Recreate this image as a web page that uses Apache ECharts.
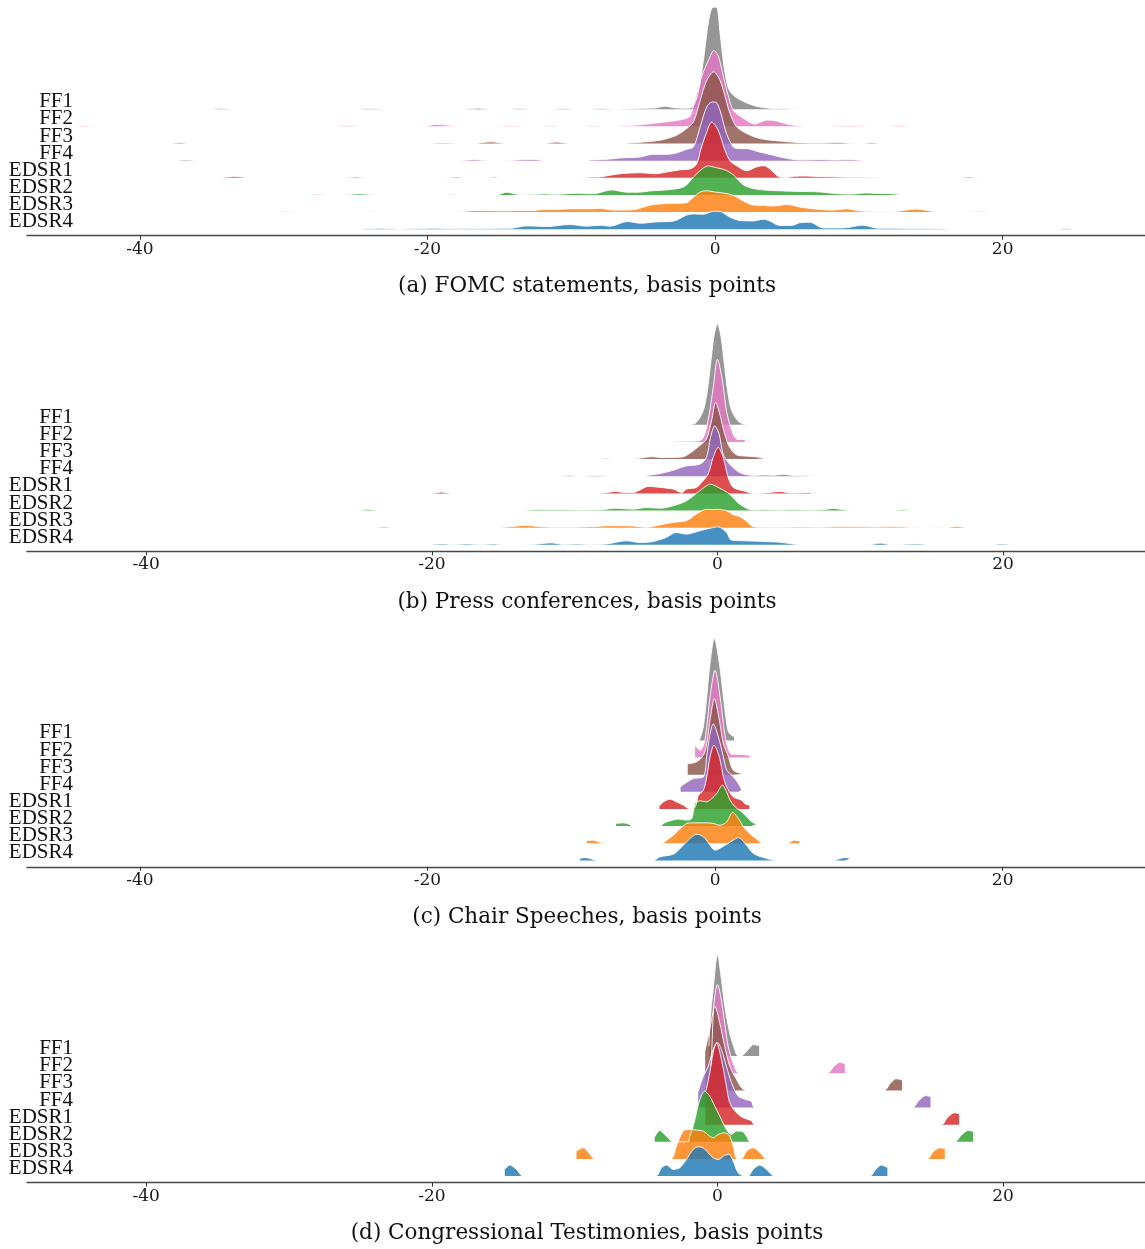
<!DOCTYPE html>
<html>
<head>
<meta charset="utf-8">
<script src="https://cdn.jsdelivr.net/npm/echarts@6/dist/echarts.min.js"></script>
<style>
  html, body { margin: 0; padding: 0; background: #ffffff; }
  #chart { width: 1145px; height: 1249px; }
</style>
</head>
<body>
<div id="chart"></div>
<script>
// Ridge order, top to bottom, and their fill colours
const ridgeNames = ['FF1', 'FF2', 'FF3', 'FF4', 'EDSR1', 'EDSR2', 'EDSR3', 'EDSR4'];
const ridgeColors = ['#7f7f7f', '#e377c2', '#8c564b', '#9467bd', '#d62728', '#2ca02c', '#ff7f0e', '#1f77b4'];
const panelTitles = [
  '(a) FOMC statements, basis points',
  '(b) Press conferences, basis points',
  '(c) Chair Speeches, basis points',
  '(d) Congressional Testimonies, basis points'
];
const tickValues = [-40, -20, 0, 20];

// Kernel density curves: [change in basis points, scaled density]
// (a) FOMC statements
const fomcFF1 = [[-34.9,0],[-34.3,0.9],[-33.7,0],[-24.8,0],[-24,0.9],[-23.1,0],[-17.5,0],[-16.5,1.2],[-15.6,0],[-14.3,0],[-13.6,0.9],[-12.9,0],[-11.2,0],[-10.5,0.9],[-9.9,0],[-8.7,0],[-7.9,0.9],[-7.1,0],[-6.0,0.5],[-5,1],[-4.2,1.2],[-3.5,3],[-2.8,1.5],[-2.1,1],[-1.6,2],[-1.2,15],[-0.8,50],[-0.45,88],[-0.15,102],[0.1,102],[0.35,76],[0.63,42],[0.93,21],[1.27,14],[1.8,9],[2.43,5],[3.0,2.5],[3.8,0.9],[4.8,0.6],[5.9,0.6]];
const fomcFF2 = [[-44.4,0],[-43.8,0.9],[-43.3,0],[-26.3,0],[-25.5,1],[-24.8,0],[-20.3,0],[-19.4,2],[-18.5,1],[-17.9,0],[-15.2,0],[-14.2,0.9],[-13.1,0],[-12.2,0],[-11.5,0.9],[-10.8,0],[-9.2,0],[-8.5,0.8],[-7.8,0],[-6.6,0.4],[-5.2,1.5],[-4.3,3],[-3.4,4.5],[-2.6,6],[-2.0,8],[-1.74,10],[-1.4,26],[-0.93,50],[-0.46,66],[-0.07,76],[0.23,70],[0.58,50],[0.93,30],[1.27,16],[1.97,8],[2.78,2.3],[3.2,4.5],[3.6,6.3],[4.2,5.7],[5.0,2.3],[5.9,0.6],[6.5,0],[7.8,0],[9.3,1],[10.8,0],[12.2,0],[12.8,1],[13.4,0]];
const fomcFF3 = [[-37.9,0],[-37.2,0.8],[-36.5,0],[-20.2,0],[-19,0.6],[-17.5,0],[-16.8,0],[-15.6,1.7],[-14.5,0],[-11.9,0],[-11,1.5],[-10.1,0],[-6.6,0],[-5.7,0.8],[-4.6,2],[-3.8,3.3],[-2.67,8.3],[-1.97,15],[-1.5,21.7],[-1.04,43],[-0.58,63],[-0.1,71.7],[0.35,63],[0.7,47],[1.04,30],[1.5,16.7],[2.2,10],[3.1,5],[4.3,2.7],[5.9,0.8],[6.5,0.6],[7.4,0.4],[8.0,0.7],[8.5,1.2],[9.1,0.6],[9.8,0],[10.2,0],[10.8,0.8],[11.5,0]];
const fomcFF4 = [[-37.5,0],[-36.8,0.7],[-36,0],[-18,0],[-16.8,0.9],[-15.6,0],[-14.7,0],[-13.5,0.8],[-12.5,1.1],[-11.9,0],[-9.2,0],[-8.6,0.7],[-8.0,1],[-7.5,1.3],[-6.6,2.7],[-5.7,3.2],[-5.2,3.7],[-4.3,6.3],[-3.4,6.3],[-2.67,7.7],[-2,11.3],[-1.5,13.7],[-1.04,33.7],[-0.58,53.7],[-0.2,58.7],[0.1,58],[0.35,50],[0.8,27],[1.27,13.7],[1.7,12],[2.2,12],[3.0,9],[3.6,7],[4.75,3],[5.9,0.7],[6.6,0.8],[7.3,1.2],[8.2,0.7],[9.4,0.9],[10.4,0]];
const fomcEDSR1 = [[-34.4,0],[-33.4,1.2],[-32.3,0],[-26,0],[-25,0.8],[-23.9,0],[-18.9,0],[-18,0.7],[-17.3,0],[-15.9,0],[-15.4,0.7],[-15,0],[-9.4,0],[-8.6,0.7],[-8.0,0.9],[-7.5,2],[-7.1,3],[-6.4,4.3],[-5.2,5],[-4.1,4],[-3.4,5.7],[-2.4,8],[-1.7,9],[-1.27,14],[-1.0,28],[-0.6,45],[-0.23,55.7],[0.23,47],[0.7,27],[1.04,17],[1.5,12],[2.2,7],[2.9,11],[3.4,12],[3.8,9],[4.5,0.8],[5.0,0.4],[5.5,1.5],[6.3,1.8],[7.0,1.4],[8.0,1],[9.0,0.6],[10.5,0.5],[12.4,0],[16.9,0],[17.6,0.7],[18.4,0]];
const fomcEDSR2 = [[-28.4,0],[-27.7,0.7],[-27,0],[-25.9,0],[-24.7,1.1],[-23.5,0],[-18.7,0],[-18.3,0.6],[-18,0],[-15.2,0],[-14.5,2.7],[-13.6,0.4],[-12.6,0.6],[-11.8,1],[-11,0.6],[-10.3,1.2],[-9.5,1.7],[-8.7,1.2],[-8.2,1.7],[-7.2,5],[-6.1,2.7],[-5.4,2.7],[-4.5,4],[-3.4,5],[-2.4,7],[-2.0,9.7],[-1.5,18],[-0.81,27],[-0.46,29],[0,27.5],[0.7,25],[1.27,20],[1.97,10],[2.67,6.3],[3.6,4.7],[4.75,4],[5.9,3.5],[6.6,3.3],[7.3,3],[8.3,1.5],[9.4,0.8],[10.5,2],[11.3,1.5],[12.2,1.3],[12.9,1]];
const fomcEDSR3 = [[-30.5,0],[-29.7,0.8],[-29,0],[-24.7,0],[-23.9,0.8],[-23.1,0],[-17.7,0.4],[-16.8,1.5],[-15.9,1.5],[-15,1.2],[-13.8,1.5],[-12.6,1.5],[-12.2,2.3],[-11,2.5],[-9.9,3.3],[-8.7,3.3],[-8.0,3.7],[-7.1,2],[-5.7,2.3],[-4.5,7],[-3.4,8.5],[-2,9.3],[-1.5,15],[-1.04,20],[-0.58,21.3],[0,20],[0.58,19],[1.27,16.7],[1.97,11],[2.67,7],[3.36,6.7],[4.06,6],[5.0,7.5],[5.9,5],[7.0,3],[8.2,2],[9.1,3.3],[10.0,1.2],[10.9,0.6],[11.9,0.4],[12.7,0.9],[14.0,3],[15.2,0.6],[15.8,0],[17.5,0],[18.2,0.7],[18.9,0]];
const fomcEDSR4 = [[-24.5,0],[-23.2,0.9],[-21.9,0],[-20.7,0.6],[-19.5,1],[-18.2,0.4],[-16.6,0.6],[-15.4,0.6],[-15,0.9],[-14.2,1],[-13.1,3.3],[-11.7,2.7],[-10.1,4.7],[-8.9,3],[-8,4],[-7.3,3],[-6.1,7.7],[-5.2,6],[-4.1,7.3],[-2.9,8],[-2,14],[-1.5,15.3],[-0.8,15],[-0.1,18],[0.35,17.7],[1.04,12],[1.74,8.7],[2.67,8.3],[3.36,10],[3.8,8.3],[4.5,3.7],[5.4,4],[5.9,6.5],[6.6,7],[7.5,1.3],[8.9,1.3],[10.3,4],[11.3,1],[12.2,1],[13.5,0.8],[15,0.8],[16.8,0],[23.8,0],[24.4,0.8],[24.9,0]];

// (b) Press conferences
const pressFF1 = [[-2.0,0],[-1.5,2],[-1.0,14],[-0.75,30],[-0.5,58],[-0.25,88],[0,101],[0.25,88],[0.5,58],[0.75,30],[1.0,14],[1.5,3],[2.0,0.5]];
const pressFF2 = [[-2.9,0.6],[-2.3,0.7],[-1.7,0.9],[-1.24,1.5],[-1.0,4.3],[-0.77,14],[-0.54,31],[-0.3,54],[0,82.7],[0.35,61],[0.63,31],[0.86,17.7],[1.1,7.7],[1.33,3],[1.6,2.5],[1.91,2.5]];
const pressFF3 = [[-8.4,0],[-7.8,0.9],[-7.3,0],[-6,0],[-5.4,1],[-4.9,2],[-4.5,2.3],[-4,1.6],[-3.1,1.7],[-2.4,2.3],[-1.7,8.3],[-1.2,14],[-0.77,20],[-0.42,38],[-0.12,56.7],[0.16,45],[0.51,25],[0.86,11.7],[1.33,4.3],[2.0,3],[2.7,2.3],[3.3,0.6]];
const pressFF4 = [[-10.8,0],[-10.3,0.9],[-9.9,0],[-9.3,0],[-8.5,1],[-7.8,0],[-5.2,0],[-4.7,1.3],[-4.0,2.7],[-3.1,6],[-2.2,10.3],[-1.24,12],[-0.77,18.7],[-0.49,38.7],[-0.19,50.3],[0.12,42],[0.4,22],[0.86,12],[1.56,3.7],[2.5,0.8],[3.3,1.3],[4.0,1],[4.6,2],[5.3,0.8],[6.1,0.8],[6.9,0.9]];
const pressEDSR1 = [[-19.9,0],[-19.3,1.3],[-18.7,0],[-8.24,0],[-7.8,0.8],[-7.1,2],[-6.5,0.8],[-5.9,0.8],[-5.44,3.3],[-4.86,7],[-4.0,6],[-3.1,4.3],[-2.5,0.8],[-2.17,4.3],[-1.47,6],[-1.0,12.7],[-0.65,19.3],[-0.3,36],[0.05,46],[0.4,36],[0.75,16],[1.1,6],[1.8,2.7],[2.6,0],[3.4,0.6],[4.4,2],[5.1,0.4],[5.9,0.6],[6.4,0.9],[6.9,0.8]];
const pressEDSR2 = [[-25,0],[-24.4,0.9],[-23.8,0],[-13.7,0],[-12.7,0.9],[-11.7,0.6],[-11,0.8],[-10,0.4],[-9.2,0.4],[-8.2,0.8],[-7.1,2.3],[-5.9,1.3],[-5,3],[-4,2.3],[-3.1,4.7],[-2.17,9.7],[-1.24,19.7],[-0.49,26.3],[0.16,22.3],[0.86,16.3],[1.56,6.3],[2.5,0.4],[3.2,0.8],[4.2,0.4],[5.3,0.8],[6.5,0.4],[7.5,1],[8.1,2.3],[8.7,0.9],[9.5,0],[12.3,0],[12.9,0.8],[13.5,0.6]];
const pressEDSR3 = [[-23.9,0],[-23.3,0.8],[-22.7,0],[-15.5,0],[-14.5,1],[-13.4,2.3],[-12.4,1],[-11,0.4],[-8.9,1],[-7.5,2],[-5.9,1.7],[-5,0.4],[-4.3,2],[-3.1,5.3],[-2.17,7],[-1.47,13.7],[-0.77,18.3],[-0.3,18],[-0.07,18.3],[0.63,17],[1.1,13],[1.56,11],[2,7],[2.5,1],[3.2,0.4],[4.5,0.4],[6,0.6],[7.2,0.4],[8.3,0.8],[9.7,0.8],[11.1,0.6],[11.8,0.8],[12.8,0.8],[13.5,0.3],[16,0],[16.7,1.3],[17.4,0]];
const pressEDSR4 = [[-19.9,0.6],[-19.2,0.9],[-18.6,0.4],[-17.5,0.9],[-16.6,0.4],[-15.6,0.9],[-14.8,0],[-12.7,0.6],[-11.7,2],[-10.8,0.4],[-9.8,0.8],[-9,0.4],[-7.8,0.8],[-6.4,4],[-5.4,2.3],[-4.5,3.3],[-3.6,7.3],[-2.9,12.3],[-2.2,10.7],[-1.24,14],[-0.3,17.3],[0.05,18],[0.63,12.3],[0.98,4.7],[2.0,4],[3.2,3.3],[4.4,2.5],[5.3,0.8],[6,0],[10.6,0],[11.4,1.7],[12.2,0],[13.2,0.6],[14.2,0.8],[14.9,0],[19.1,0],[19.8,0.8],[20.5,0.6]];

// (c) Chair speeches
const speechFF1 = [[-1.1,0],[-0.95,6],[-0.8,15],[-0.6,40],[-0.35,77],[-0.05,102],[0.3,77],[0.58,43.5],[0.81,17],[0.93,8.5],[1.16,5],[1.32,4]];
const speechFF2 = [[-1.39,12],[-1.04,7.3],[-0.76,14],[-0.58,30.7],[-0.35,60.7],[0,87.3],[0.35,60.7],[0.58,34],[0.81,14],[1.16,3.3],[1.74,3.3],[2.1,2.8],[2.39,2.3]];
const speechFF3 = [[-1.9,11],[-1.27,13],[-0.81,19.5],[-0.58,31],[-0.35,54.5],[-0.05,76],[0.3,54.5],[0.58,31],[0.93,18],[1.27,4.5],[1.85,1.2],[1.92,1]];
const speechFF4 = [[-2.4,5],[-2.1,8.3],[-1.5,13.3],[-0.81,15],[-0.58,35],[-0.39,55],[-0.12,68],[0.23,55],[0.58,35],[0.81,21.7],[1.27,15],[1.62,8.3],[1.85,2]];
const speechEDSR1 = [[-3.87,3],[-3.6,7],[-3.13,9.8],[-2.67,7],[-2.2,3.8],[-1.85,0.6],[-1.5,0.4],[-1.3,5],[-1.16,13.8],[-0.81,18.8],[-0.58,32],[-0.35,52],[-0.07,63.8],[0.3,52],[0.58,32],[0.81,22],[1.27,12],[1.85,8.8],[2.1,5],[2.39,4]];
const speechEDSR2 = [[-6.88,2.5],[-6.4,3.3],[-6.0,2],[-5.7,0],[-3.8,0],[-3.6,2.6],[-3.13,5.3],[-2.55,7],[-1.97,6],[-1.62,7.6],[-1.39,22.6],[-1.04,25.3],[-0.58,24.3],[-0.23,27.6],[0.12,32.6],[0.51,41],[0.81,34],[1.04,26],[1.39,19.3],[1.85,14.3],[2.2,9.3],[2.55,4.3],[2.9,2]];
const speechEDSR3 = [[-8.92,2.5],[-8.46,3.1],[-8.1,1.5],[-7.77,0],[-3.7,0],[-3.36,3],[-2.9,8],[-2.43,14.8],[-1.97,19.8],[-1.62,20.4],[-1.04,20.4],[-0.58,20.4],[-0.12,19.8],[0.35,18],[0.81,21.4],[1.23,30.8],[1.62,24.8],[1.97,16.4],[2.55,8],[3.13,1.4],[3.25,0],[5.05,0],[5.45,3.1],[5.86,2.5]];
const speechEDSR4 = [[-9.39,2],[-9.04,2.9],[-8.6,1.5],[-8.23,0],[-4.29,0],[-3.82,3.6],[-2.9,6.2],[-2.43,12],[-1.74,22],[-1.27,26.2],[-0.81,23.6],[-0.35,15.2],[0,10.2],[0.58,14.2],[1.27,20.2],[1.62,22.9],[2.09,16.9],[2.67,6.9],[3.6,1.9],[4.29,0],[8.23,0],[8.6,1.5],[9.04,2.9],[9.39,2]];

// (d) Congressional testimonies
const testimonyFF1 = [[-0.6,10],[-0.58,16.5],[-0.47,43],[-0.3,66.5],[0,101.5],[0.28,76.5],[0.51,50],[0.86,23],[1.21,6.5],[1.4,0.5],[1.68,0],[2.0,4],[2.3,9],[2.5,11.5],[2.92,10.5]];
const testimonyFF2 = [[-0.45,8],[-0.42,13.7],[-0.37,33.7],[-0.3,57],[-0.19,77],[0,88.7],[0.23,77],[0.51,50],[0.75,27],[1.1,10.3],[1.38,1],[1.6,0],[7.7,0],[8.1,6],[8.57,11],[8.92,9.7]];
const testimonyFF3 = [[-0.86,40],[-0.72,50],[-0.58,58],[-0.42,70],[-0.19,84.3],[0.16,67.6],[0.51,44],[0.86,24.3],[1.33,11],[1.8,1],[2.2,0],[11.67,0],[12.1,7],[12.5,11.6],[12.93,10.5]];
const testimonyFF4 = [[-1.35,16],[-1.24,21],[-1.0,31],[-0.65,41],[-0.3,58],[0,65],[0.28,58],[0.63,41],[0.98,25],[1.45,11.4],[2.0,8],[2.38,6],[2.6,0],[13.66,0],[14.1,7],[14.6,12],[14.92,11]];
const testimonyEDSR1 = [[-0.84,33],[-0.77,36],[-0.54,52],[-0.3,72],[-0.07,81.9],[0.28,65],[0.63,38.6],[0.86,22],[1.33,12],[1.8,7],[2.2,5],[2.38,4],[2.6,0],[15.69,0],[16.1,7],[16.6,11.9],[16.92,11]];
const testimonyEDSR2 = [[-4.39,5],[-4.04,11.4],[-3.6,6],[-3.1,0],[-2.05,0],[-1.94,5.7],[-1.7,15.7],[-1.47,29],[-1.24,42],[-0.89,50.7],[-0.54,45.7],[-0.19,35.7],[0.16,25.7],[0.63,12.3],[0.98,7.3],[1.33,10.7],[1.68,10.7],[2.03,5.7],[2.31,0],[16.6,0],[17.1,7],[17.55,11.4],[17.9,10.5]];
const testimonyEDSR3 = [[-9.87,8],[-9.4,11.2],[-9.0,6],[-8.6,0],[-3.29,0],[-2.87,12.9],[-2.4,27.9],[-1.94,29.5],[-1.47,28.9],[-1.0,27.9],[-0.54,22.9],[-0.3,21.2],[0.05,24.5],[0.51,26.2],[0.86,22.9],[1.1,12.9],[1.38,0],[1.68,0],[2.05,8],[2.5,11.2],[3.0,6],[3.43,0],[14.68,0],[15.1,7],[15.57,11.2],[15.92,10.5]];
const testimonyEDSR4 = [[-14.89,7],[-14.54,11],[-14.08,6.7],[-13.6,0],[-4.32,0],[-3.92,8.3],[-3.57,11],[-3.1,6.7],[-2.64,8.3],[-2.17,16.7],[-1.7,26.7],[-1.35,29.3],[-1.0,28.3],[-0.65,23.3],[-0.3,18.3],[0.05,16.7],[0.51,20.7],[0.82,21.7],[1.1,15],[1.45,3.3],[1.91,0],[2.15,0],[2.5,6.7],[2.96,11],[3.43,6.7],[4.0,0],[10.67,0],[11.1,7],[11.48,11],[11.9,8.5]];

const panels = [
  { title: panelTitles[0], xMin: -47.85, xMax: 29.9,  ridges: [fomcFF1, fomcFF2, fomcFF3, fomcFF4, fomcEDSR1, fomcEDSR2, fomcEDSR3, fomcEDSR4] },
  { title: panelTitles[1], xMin: -48.35, xMax: 29.94, ridges: [pressFF1, pressFF2, pressFF3, pressFF4, pressEDSR1, pressEDSR2, pressEDSR3, pressEDSR4] },
  { title: panelTitles[2], xMin: -47.85, xMax: 29.9,  ridges: [speechFF1, speechFF2, speechFF3, speechFF4, speechEDSR1, speechEDSR2, speechEDSR3, speechEDSR4] },
  { title: panelTitles[3], xMin: -48.35, xMax: 29.94, ridges: [testimonyFF1, testimonyFF2, testimonyFF3, testimonyFF4, testimonyEDSR1, testimonyEDSR2, testimonyEDSR3, testimonyEDSR4] }
];

// Layout
const axisLineY = [235.7, 551.3, 866.9, 1182.6];
const gridHeight = 232;
const ridgeStep = 17.14;     // vertical distance between ridge baselines
const lowestBase = 6.5;      // lowest baseline above the x axis
const serif = "'DejaVu Serif', serif";
const labelSerif = "'Liberation Serif', 'Times New Roman', serif";

const grid = [], xAxis = [], yAxis = [], series = [], title = [];

panels.forEach((p, g) => {
  grid.push({ left: 27, width: 1118, top: axisLineY[g] - gridHeight, height: gridHeight,
              containLabel: false, outerBoundsMode: 'none' });
  xAxis.push({
    type: 'value', gridIndex: g, min: p.xMin, max: p.xMax, position: 'bottom',
    axisLine: { show: true, onZero: false, lineStyle: { color: '#4a4a4a', width: 1.4 } },
    axisTick: { show: true, customValues: tickValues, length: 4, lineStyle: { color: '#333', width: 1 } },
    axisLabel: { customValues: tickValues, margin: 5, fontFamily: serif, fontSize: 17, color: '#1a1a1a',
                 formatter: v => String(v) },
    splitLine: { show: false }
  });
  title.push({
    text: p.title, left: 582, top: axisLineY[g] + 46, textAlign: 'center', textVerticalAlign: 'middle',
    textStyle: { fontFamily: serif, fontSize: 21.5, fontWeight: 'normal', color: '#111111' }
  });
  p.ridges.forEach((curve, i) => {
    const base = lowestBase + (ridgeNames.length - 1 - i) * ridgeStep;
    const yIndex = yAxis.length;
    yAxis.push({
      type: 'value', gridIndex: g, position: 'left', offset: 0, min: -base, max: gridHeight - base,
      axisLine: { show: false, onZero: false }, axisTick: { show: false }, splitLine: { show: false },
      axisLabel: {
        customValues: [0], formatter: () => ridgeNames[i], margin: -46,
        fontFamily: labelSerif, fontSize: 21, color: '#111111',
        verticalAlign: 'bottom', lineHeight: 15
      }
    });
    series.push({
      type: 'line', name: ridgeNames[i], xAxisIndex: g, yAxisIndex: yIndex,
      data: curve, smooth: 0.3, showSymbol: false, symbol: 'none',
      lineStyle: { color: '#ffffff', width: 0.9 },
      areaStyle: { color: ridgeColors[i], opacity: 0.82 },
      silent: true
    });
  });
});

const chart = echarts.init(document.getElementById('chart'), null, { renderer: 'canvas' });
chart.setOption({
  animation: false,
  backgroundColor: '#ffffff',
  title, grid, xAxis, yAxis, series,
  // the speech panel's tick labels are cut off just above the digits' foot
  graphic: [{ type: 'rect', shape: { x: 0, y: 885.6, width: 1145, height: 17 }, style: { fill: '#ffffff' }, z: 100 }]
});
</script>
</body>
</html>
